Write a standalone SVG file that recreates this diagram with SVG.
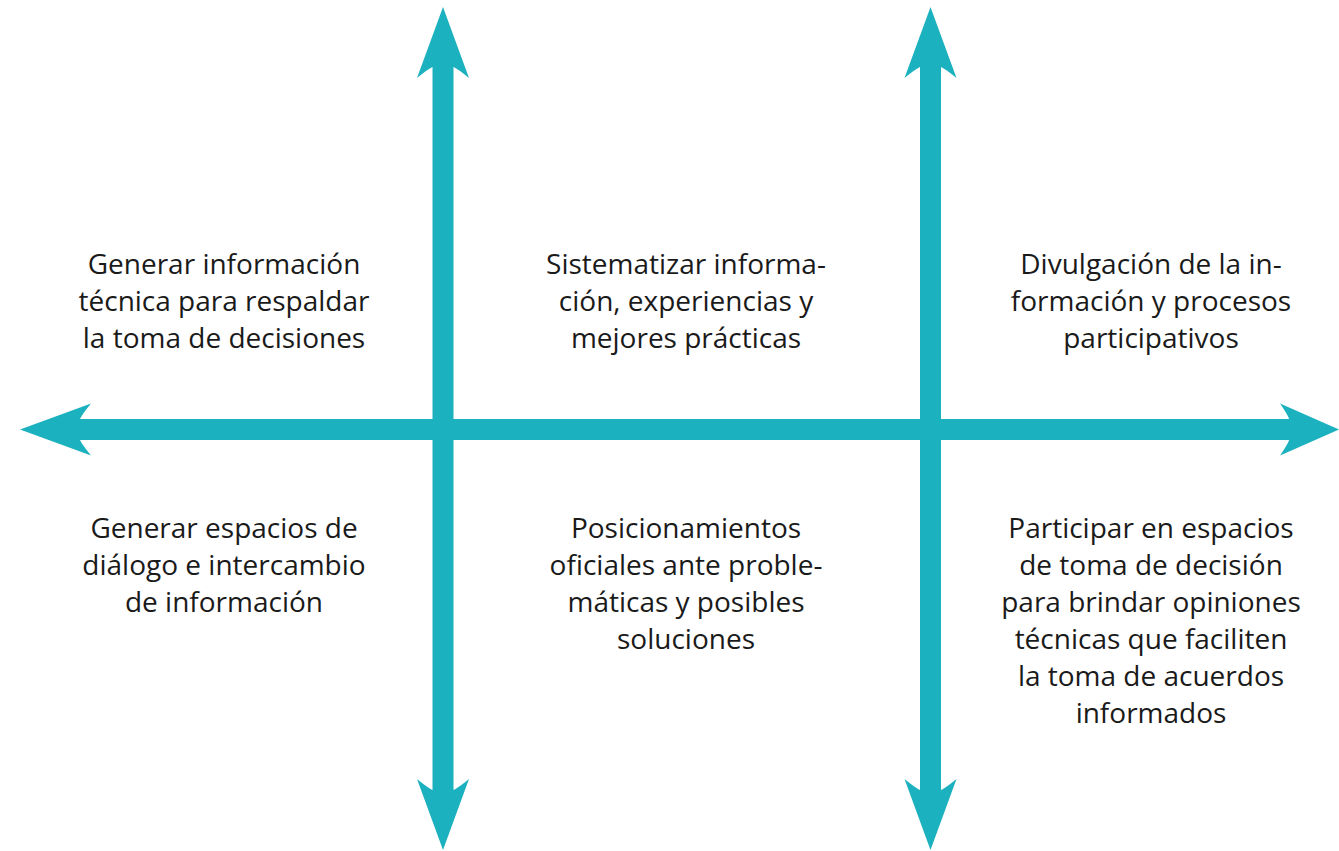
<svg xmlns="http://www.w3.org/2000/svg" width="1339" height="851" viewBox="0 0 1339 851">
<style>
.ax{fill:#1cb1be}
.t{font-family:"Open Sans","Noto Sans",sans-serif;font-size:28px;fill:#1a1a1a;text-anchor:middle}
</style>
<defs>
<path id="head" d="M0,0 L26,71 Q15,62 10.5,60 L-10.5,60 Q-15,62 -26,71 Z"/>
</defs>
<rect width="1339" height="851" fill="#ffffff"/>
<g id="connectors" class="ax">
<rect x="432.5" y="60" width="21" height="730"/>
<rect x="920" y="60" width="21" height="730"/>
<rect x="80" y="419" width="1210" height="21"/>
<use href="#head" transform="translate(443,7)"/>
<use href="#head" transform="translate(443,850) rotate(180)"/>
<use href="#head" transform="translate(930.5,7)"/>
<use href="#head" transform="translate(930.5,850) rotate(180)"/>
<use href="#head" transform="translate(20,429.5) rotate(-90)"/>
<use href="#head" transform="translate(1339,429.5) rotate(90) scale(1,0.83)"/>
</g>
<g id="n1" class="t"><text x="224" y="274">Generar información</text><text x="224" y="311">técnica para respaldar</text><text x="224" y="348">la toma de decisiones</text></g>
<g id="n2" class="t"><text x="686" y="274">Sistematizar informa-</text><text x="686" y="311">ción, experiencias y</text><text x="686" y="348">mejores prácticas</text></g>
<g id="n3" class="t"><text x="1151" y="274">Divulgación de la in-</text><text x="1151" y="311">formación y procesos</text><text x="1151" y="348">participativos</text></g>
<g id="n4" class="t"><text x="224" y="538">Generar espacios de</text><text x="224" y="575">diálogo e intercambio</text><text x="224" y="612">de información</text></g>
<g id="n5" class="t"><text x="686" y="538">Posicionamientos</text><text x="686" y="575">oficiales ante proble-</text><text x="686" y="612">máticas y posibles</text><text x="686" y="649">soluciones</text></g>
<g id="n6" class="t"><text x="1151" y="538">Participar en espacios</text><text x="1151" y="575">de toma de decisión</text><text x="1151" y="612">para brindar opiniones</text><text x="1151" y="649">técnicas que faciliten</text><text x="1151" y="686">la toma de acuerdos</text><text x="1151" y="723">informados</text></g>
</svg>
